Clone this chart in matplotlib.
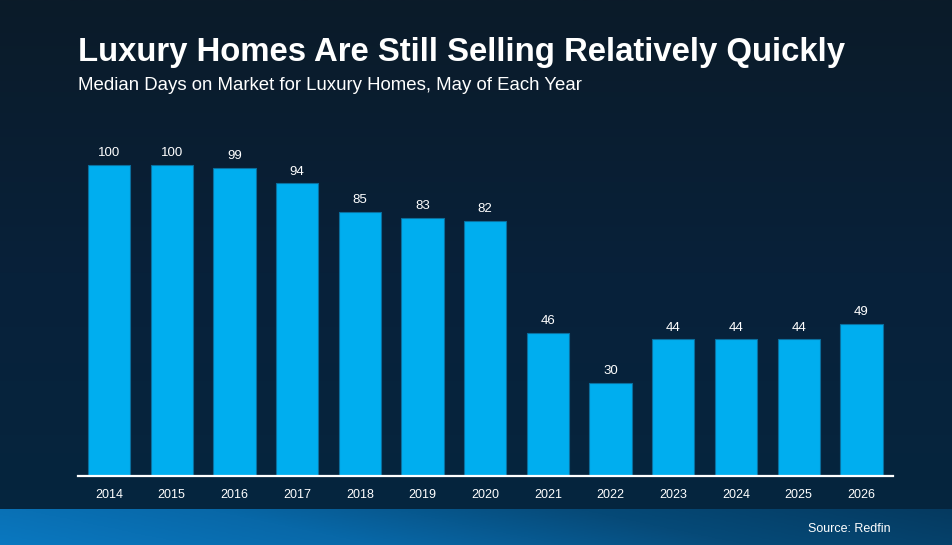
import numpy as np
import matplotlib
matplotlib.use("Agg")
import matplotlib.pyplot as plt
from matplotlib.colors import LinearSegmentedColormap

years = ["2014", "2015", "2016", "2017", "2018", "2019", "2020",
         "2021", "2022", "2023", "2024", "2025", "2026"]
days = [100, 100, 99, 94, 85, 83, 82, 46, 30, 44, 44, 44, 49]

title = "Luxury Homes Are Still Selling Relatively Quickly"
subtitle = "Median Days on Market for Luxury Homes, May of Each Year"
source = "Source: Redfin"

W, H = 952, 545
fig = plt.figure(figsize=(W / 100, H / 100), dpi=100)
plt.rcParams['font.family'] = ['Liberation Sans', 'DejaVu Sans']

# background gradient (vertical)
bg = fig.add_axes([0, 0, 1, 1])
bg.set_axis_off()
bg_cmap = LinearSegmentedColormap.from_list("bg", ["#0b1b29", "#08213a", "#05263f"])
grad = np.linspace(0, 1, 256).reshape(-1, 1)
bg.imshow(grad, aspect="auto", cmap=bg_cmap, extent=[0, 1, 0, 1], origin="upper")
bg.set_xlim(0, 1)
bg.set_ylim(0, 1)

# bottom band (horizontal gradient)
band_h = (H - 509) / H
band = fig.add_axes([0, 0, 1, band_h])
band.set_axis_off()
band_cmap = LinearSegmentedColormap.from_list("band", ["#0a78c0", "#0868a8", "#064a78", "#053a60"])
xg = np.linspace(0, 1, 256).reshape(1, -1)
yg = np.linspace(0, 1, 32).reshape(-1, 1)
band.imshow(np.clip(xg * 0.85 + yg * 0.15, 0, 1), aspect="auto", cmap=band_cmap,
            extent=[0, 1, 0, 1], origin="lower")
band.set_xlim(0, 1)
band.set_ylim(0, 1)
fig.text(891 / W, (H - 529) / H, source, color="white", fontsize=9,
         ha="right", va="center")

# titles
fig.text(78 / W, (H - 60.5) / H, title, color="white", fontsize=23.7,
         fontweight="bold", ha="left", va="baseline")
fig.text(78 / W, (H - 90.5) / H, subtitle, color="white", fontsize=13.4,
         ha="left", va="baseline")

# chart axes
ax_left, ax_right = 77.7, 892.7
ax_bottom, ax_top = 476.3, 130
ax = fig.add_axes([ax_left / W, (H - ax_bottom) / H,
                   (ax_right - ax_left) / W, (ax_bottom - ax_top) / H])
ax.set_facecolor("none")
x = np.arange(len(years))
ppu = 3.115
ax.set_xlim(-0.5, len(years) - 0.5)
ax.set_ylim(0, (ax_bottom - ax_top) / ppu)
bars = ax.bar(x, days, width=0.675, color="#00aeef", edgecolor="#0a6f9e", linewidth=0.8, zorder=2)
for xi, v in zip(x, days):
    ax.annotate(str(v), (xi, v), xytext=(0, 4), textcoords="offset points",
                ha="center", va="bottom", color="white", fontsize=9.5)
for s in ["top", "right", "left"]:
    ax.spines[s].set_visible(False)
ax.spines["bottom"].set_color("white")
ax.spines["bottom"].set_linewidth(1.6)
ax.set_yticks([])
ax.set_xticks(x)
ax.set_xticklabels(years, color="white", fontsize=9)
ax.tick_params(axis="x", length=0, pad=9)

fig.savefig("out.png", dpi=100)
